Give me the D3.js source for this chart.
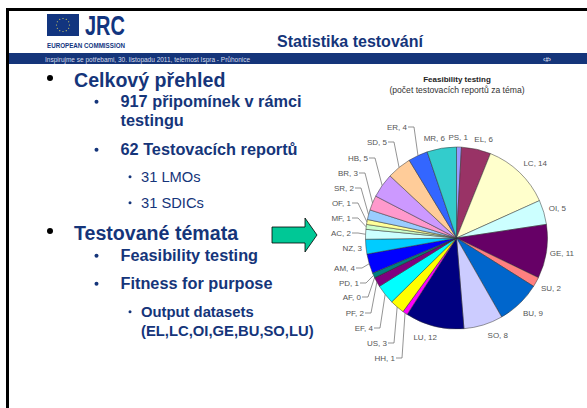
<!DOCTYPE html>
<html>
<head>
<meta charset="utf-8">
<script src="https://d3js.org/d3.v7.min.js"></script>
<style>
html,body{margin:0;padding:0;background:#fff;overflow:hidden;}
text{font-family:"Liberation Sans",Arial,sans-serif;}
</style>
</head>
<body>
<div id="chart"></div>
<script>
// pie data, clockwise from 12 o'clock
const categories = ["PS","EL","LC","OI","GE","SU","BU","SO","LU","HH","US","EF","PF","AF","PD","AM","NZ","AC","MF","OF","SR","BR","HB","SD","ER","MR"];
const values = [1,6,14,5,11,2,9,8,12,1,3,4,2,0,1,4,3,2,1,1,2,3,5,5,4,6];
const colors = ["#9999ff","#993366","#ffffcc","#ccffff","#660066","#ff8080","#0066cc","#ccccff","#000080","#ff00ff","#ffff00","#00ffff","#800080","#800000","#008080","#0000ff","#00ccff","#ccffff","#ccffcc","#ffff99","#99ccff","#ff99cc","#cc99ff","#ffcc99","#3366ff","#33cccc"];

const bulletLines = [
    {text:"Celkový přehled", y:87, level:0, bullet:true},
    {text:"917 připomínek v rámci", y:107, level:1, bullet:true},
    {text:"testingu", y:126, level:1},
    {text:"62 Testovacích reportů", y:155, level:1, bullet:true},
    {text:"31 LMOs", y:182, level:2, bullet:true},
    {text:"31 SDICs", y:208, level:2, bullet:true},
    {text:"Testované témata", y:240, level:0, bullet:true},
    {text:"Feasibility testing", y:261, level:1, bullet:true},
    {text:"Fitness for purpose", y:289, level:1, bullet:true},
    {text:"Output datasets", y:317, level:3, bullet:true},
    {text:"(EL,LC,OI,GE,BU,SO,LU)", y:336, level:3}
];

const levels = [
    {x:74, size:19.6, weight:"bold", bx:50, r:3, dy:9, fill:"#000"},
    {x:120.5, size:16.3, weight:"bold", bx:96.5, r:2, dy:5.3, fill:"#15357a"},
    {x:141, size:14.7, weight:"normal", bx:130, r:1.5, dy:5.3, fill:"#15357a"},
    {x:141, size:14.8, weight:"bold", bx:130, r:1.5, dy:5.3, fill:"#15357a"}
];

const width = 587, height = 408;
const navy = "#15357a";

const svg = d3.select("#chart").append("svg")
    .attr("width", width)
    .attr("height", height)
    .style("display","block");

//////////////////////////////////////////////////////
// SLIDE FRAME + HEADER
//////////////////////////////////////////////////////

svg.append("rect").attr("x",6).attr("y",8).attr("width",581).attr("height",3).attr("fill","#000");
svg.append("rect").attr("x",6).attr("y",8).attr("width",3).attr("height",400).attr("fill","#000");

svg.append("rect").attr("x",9).attr("y",53).attr("width",578).attr("height",11).attr("fill",navy);

svg.append("text").attr("x",45).attr("y",62).attr("font-size",6.5).attr("fill","#d5dcea")
    .text("Inspirujme se potřebami, 30. listopadu 2011, telemost Ispra - Průhonice");
svg.append("text").attr("x",547).attr("y",61.5).attr("text-anchor","middle").attr("font-size",6.5)
    .attr("font-weight","bold").attr("fill","#d5dcea").text("‹#›");

svg.append("text").attr("x",350).attr("y",47).attr("text-anchor","middle")
    .attr("font-size",16).attr("font-weight","bold").attr("fill",navy).text("Statistika testování");

// logo
svg.append("rect").attr("x",47).attr("y",14).attr("width",32).attr("height",22).attr("fill","#12357f");
const stars = d3.range(12).map(i => i*30);
svg.append("g").selectAll("circle").data(stars).enter().append("circle")
    .attr("cx",d=>63+6.5*Math.sin(d*Math.PI/180))
    .attr("cy",d=>25-6.5*Math.cos(d*Math.PI/180))
    .attr("r",0.6).attr("fill","#d8d060");
svg.append("text").attr("x",85).attr("y",35).attr("font-size",27).attr("font-weight","bold")
    .attr("fill","#12357f").attr("textLength",40).attr("lengthAdjust","spacingAndGlyphs").text("JRC");
svg.append("text").attr("x",47).attr("y",47.5).attr("font-size",7).attr("font-weight","bold")
    .attr("fill","#12357f").attr("textLength",78).attr("lengthAdjust","spacingAndGlyphs").text("EUROPEAN COMMISSION");

//////////////////////////////////////////////////////
// BULLET TEXT
//////////////////////////////////////////////////////

const lines = svg.append("g");
bulletLines.forEach(d => {
    const l = levels[d.level];
    lines.append("text").attr("x",l.x).attr("y",d.y).attr("font-size",l.size)
        .attr("font-weight",l.weight).attr("fill",navy).text(d.text);
    if(d.bullet){
        lines.append("circle").attr("cx",l.bx).attr("cy",d.y-l.dy).attr("r",l.r).attr("fill",l.fill);
    }
});

// arrow
svg.append("path")
    .attr("d","M272,227H305V218L317,235L305,252V243H272Z")
    .attr("fill","#00c896").attr("stroke","#000").attr("stroke-width",0.8);

//////////////////////////////////////////////////////
// PIE
//////////////////////////////////////////////////////

const cx = 456.5, cy = 238, radius = 91;

const pie = d3.pie().sort(null)(values);
const arc = d3.arc().innerRadius(0).outerRadius(radius);

const pieG = svg.append("g").attr("transform",`translate(${cx},${cy})`);
pieG.selectAll("path")
    .data(pie)
    .enter()
    .append("path")
    .attr("d",arc)
    .attr("fill",(d,i)=>colors[i])
    .attr("stroke","#333")
    .attr("stroke-width",0.5);

svg.append("text").attr("x",457).attr("y",82).attr("text-anchor","middle")
    .attr("font-size",8).attr("font-weight","bold").attr("fill","#222").text("Feasibility testing");
svg.append("text").attr("x",457).attr("y",93).attr("text-anchor","middle")
    .attr("font-size",8.6).attr("fill","#333").text("(počet testovacích reportů za téma)");

//////////////////////////////////////////////////////
// DATA LABELS
//////////////////////////////////////////////////////

// right end of label text and its mid height, per category
const labelPos = {
    PS:[468,137], EL:[493,139], LC:[547,163], OI:[566,208],
    GE:[574,253], SU:[561,288], BU:[543,313], SO:[508,335],
    LU:[437,337], MR:[445,138], NZ:[362,248]
};
const leaders = {
    ER:[407,127], SD:[387,142], HB:[368,158], BR:[358,173], SR:[354,188],
    OF:[351,203], MF:[351,218], AC:[351,233],
    AM:[355,268], PD:[359,283], AF:[361,297], PF:[364,313], EF:[373,328], US:[387,343], HH:[395,358]
};

categories.forEach((c,i) => {
    const label = c+", "+values[i];
    const p = labelPos[c] || leaders[c];
    svg.append("text").attr("x",p[0]).attr("y",p[1]+3)
        .attr("text-anchor","end").attr("font-size",8).attr("fill","#555").text(label);
    if(leaders[c]){
        const mid = (pie[i].startAngle+pie[i].endAngle)/2;
        const ex = cx+radius*Math.sin(mid), ey = cy-radius*Math.cos(mid);
        svg.append("polyline")
            .attr("points",`${p[0]+1},${p[1]} ${p[0]+7},${p[1]} ${ex},${ey}`)
            .attr("fill","none").attr("stroke","#666").attr("stroke-width",0.7);
    }
});
</script>
</body>
</html>
